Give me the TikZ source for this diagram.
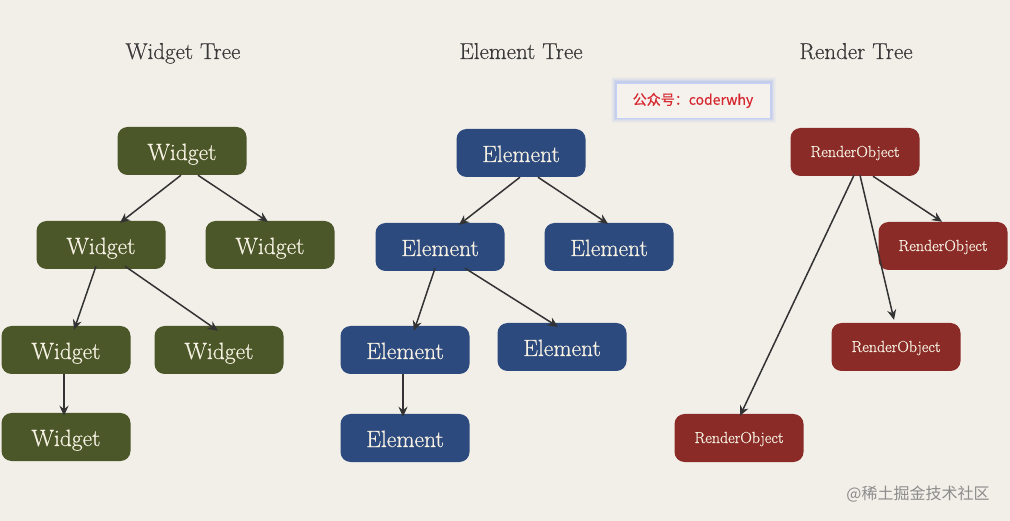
\documentclass[tikz,border=0pt]{standalone}
\usepackage{fontspec}
\newfontfamily\cjk{Noto Sans CJK SC}
\newfontfamily\cjkheavy{Noto Sans CJK SC}[FakeBold=0.3]
\newfontfamily\heavy{Latin Modern Roman}[FakeBold=0.45]
\usetikzlibrary{arrows.meta}
\definecolor{bg}{HTML}{F2EFE9}
\definecolor{wgreen}{HTML}{4B5729}
\definecolor{eblue}{HTML}{2D4A7E}
\definecolor{rred}{HTML}{8A2B27}
\definecolor{ntext}{HTML}{F6F1E2}
\definecolor{ttext}{HTML}{3A3A3A}
\definecolor{arr}{HTML}{333333}
\definecolor{wxred}{HTML}{D6262E}
\definecolor{glow}{HTML}{9FB0F0}
\begin{document}
\begin{tikzpicture}[x=1pt,y=-1pt,
  box/.style={rounded corners=10pt, minimum width=129pt, minimum height=48pt, inner sep=0pt, text=ntext},
  wbox/.style={box, fill=wgreen, font=\heavy\fontsize{23.5}{26}\selectfont, text height=18pt, text depth=0pt},
  ebox/.style={box, fill=eblue, font=\heavy\fontsize{23.5}{26}\selectfont, text height=18pt, text depth=0pt},
  rbox/.style={box, fill=rred, font=\heavy\fontsize{16}{19}\selectfont, text height=10pt, text depth=0pt},
  ttl/.style={text=ttext, font=\heavy\fontsize{23}{26}\selectfont, anchor=base},
  link/.style={draw=arr, line width=1.5pt, -{Stealth[length=10pt,width=9pt]}}]
\fill[bg] (0,0) rectangle (1010,521);
\useasboundingbox (0,0) rectangle (1010,521);

% titles
\node[ttl] (tw) at (183,59) {Widget Tree};
\node[ttl] (te) at (521,59) {Element Tree};
\node[ttl] (tr) at (856,59) {Render Tree};

% watermark box with glow
\foreach \w/\o in {11/0.06,9/0.08,7/0.12,5/0.16,3/0.25} {
  \draw[glow, line width=\w pt, opacity=\o] (616,83) rectangle (770,118);
}
\node[draw=glow!60!white, line width=0.8pt, fill=bg!80!white, minimum width=154pt, minimum height=35pt, inner sep=0pt,
      text=wxred, font=\cjkheavy\fontsize{14}{16}\selectfont] (cw) at (693,100.5) {公众号：coderwhy};

% Widget tree
\node[wbox] (w0) at (182,151) {Widget};
\node[wbox] (w1) at (101,245) {Widget};
\node[wbox] (w2) at (270,245) {Widget};
\node[wbox] (w3) at (66,350) {Widget};
\node[wbox] (w4) at (219,350) {Widget};
\node[wbox] (w5) at (66,437) {Widget};

\draw[link] ([xshift=-1pt]w0.south) -- ([xshift=19pt,yshift=-2pt]w1.north);
\draw[link] ([xshift=16pt]w0.south) -- ([xshift=-2pt,yshift=-1pt]w2.north);
\draw[link] ([xshift=-5pt,yshift=3pt]w1.south) -- ([xshift=8pt,yshift=-4pt]w3.north);
\draw[link] ([xshift=24pt,yshift=3pt]w1.south) -- ([xshift=-1pt,yshift=-5pt]w4.north);
\draw[link] ([xshift=-2pt]w3.south) -- ([xshift=-2pt,yshift=-3pt]w5.north);

% Element tree
\node[ebox] (e0) at (521,153) {Element};
\node[ebox] (e1) at (440,247) {Element};
\node[ebox] (e2) at (609,247) {Element};
\node[ebox] (e3) at (405,350) {Element};
\node[ebox] (e4) at (562,347) {Element};
\node[ebox] (e5) at (405,438) {Element};

\draw[link] ([xshift=-1pt]e0.south) -- ([xshift=19pt,yshift=-2pt]e1.north);
\draw[link] ([xshift=17pt]e0.south) -- ([xshift=-1pt,yshift=-1pt]e2.north);
\draw[link] ([xshift=-5pt,yshift=3pt]e1.south) -- ([xshift=9pt,yshift=-5pt]e3.north);
\draw[link] ([xshift=25pt,yshift=3pt]e1.south) -- ([xshift=-4pt,yshift=-4pt]e4.north);
\draw[link] ([xshift=-2pt]e3.south) -- ([xshift=-2pt,yshift=-3pt]e5.north);

% Render tree
\node[rbox] (r0) at (855,152) {RenderObject};
\node[rbox] (r1) at (943,246) {RenderObject};
\node[rbox] (r2) at (896,347) {RenderObject};
\node[rbox] (r3) at (739,438) {RenderObject};

\draw[link] ([xshift=18pt]r0.south) -- ([xshift=-1pt]r1.north);
\draw[link] ([xshift=5pt,yshift=1pt]r0.south) -- ([xshift=-2pt,yshift=3pt]r2.north);
\draw[link] ([xshift=-1pt,yshift=1pt]r0.south) -- ([xshift=1pt,yshift=-2pt]r3.north);

% site watermark
\node[text=black!45, font=\cjk\fontsize{16}{18}\selectfont] (wm) at (918,494) {@稀土掘金技术社区};
\end{tikzpicture}
\end{document}
